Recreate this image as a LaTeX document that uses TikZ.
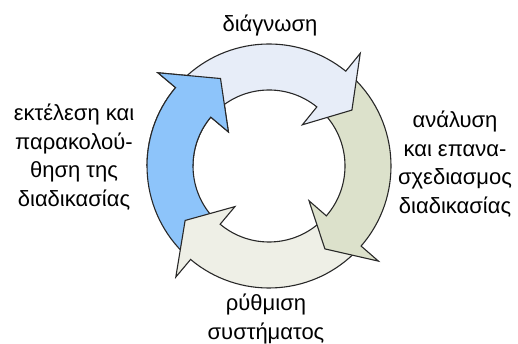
\documentclass[tikz,border=0pt]{standalone}
\usepackage{fontspec}
\setmainfont{Liberation Sans}
\usetikzlibrary{calc}

\definecolor{stepblue}{RGB}{141,196,250}
\definecolor{stepsky}{RGB}{231,237,248}
\definecolor{stepsage}{RGB}{220,225,203}
\definecolor{stepcream}{RGB}{238,239,230}
\definecolor{rimline}{RGB}{40,40,40}

% ring geometry (pt)
\newcommand\Rout{122pt}
\newcommand\Rin{76pt}
\newcommand\Rbo{145pt}
\newcommand\Rbi{53pt}
\newcommand\Rtip{100pt}

% curved ring arrow: #1 fill, #2 tail angle, #3 head base angle, #4 tip angle
\newcommand\ringarrow[4]{%
  \filldraw[arrowline, fill=#1]
    ($(c)+(#2:\Rout)$) arc[start angle=#2, end angle=#3, radius=\Rout]
    -- ($(c)+(#3:\Rbo)$) -- ($(c)+(#4:\Rtip)$) -- ($(c)+(#3:\Rbi)$)
    -- ($(c)+(#3:\Rin)$) arc[start angle=#3, end angle=#2, radius=\Rin]
    -- cycle;}

\tikzset{
  arrowline/.style={draw=rimline, line width=1.1pt, line join=miter},
  label/.style={text=black, align=center, inner sep=0pt,
    font=\fontsize{22}{28.5}\selectfont},
}

\begin{document}
\begin{tikzpicture}[x=1pt, y=1pt]
  \useasboundingbox (0,0) rectangle (518,344);
  \coordinate (c) at (269,178);

  % the four phases, each head lying over the next tail
  \ringarrow{stepblue}{225}{140}{119}
  \ringarrow{stepcream}{-46}{-130}{-147}
  \ringarrow{stepsage}{46}{-41}{-56}
  \ringarrow{stepsky}{135}{51}{34}
  \begin{scope}
    \clip (0,178) rectangle (518,344);
    \ringarrow{stepblue}{225}{140}{119}
  \end{scope}

  \node[label, anchor=base] (diag) at (270,312) {διάγνωση};
  \node[label] (anal) at (455,180) {ανάλυση\\και επανα-\\σχεδιασμος\\διαδικασίας};
  \node[label] (exec) at (74,187) {εκτέλεση και\\παρακολού-\\θηση της\\διαδικασίας};
  \node[label] (rythm) at (266,25) {ρύθμιση\\συστήματος};
\end{tikzpicture}
\end{document}
